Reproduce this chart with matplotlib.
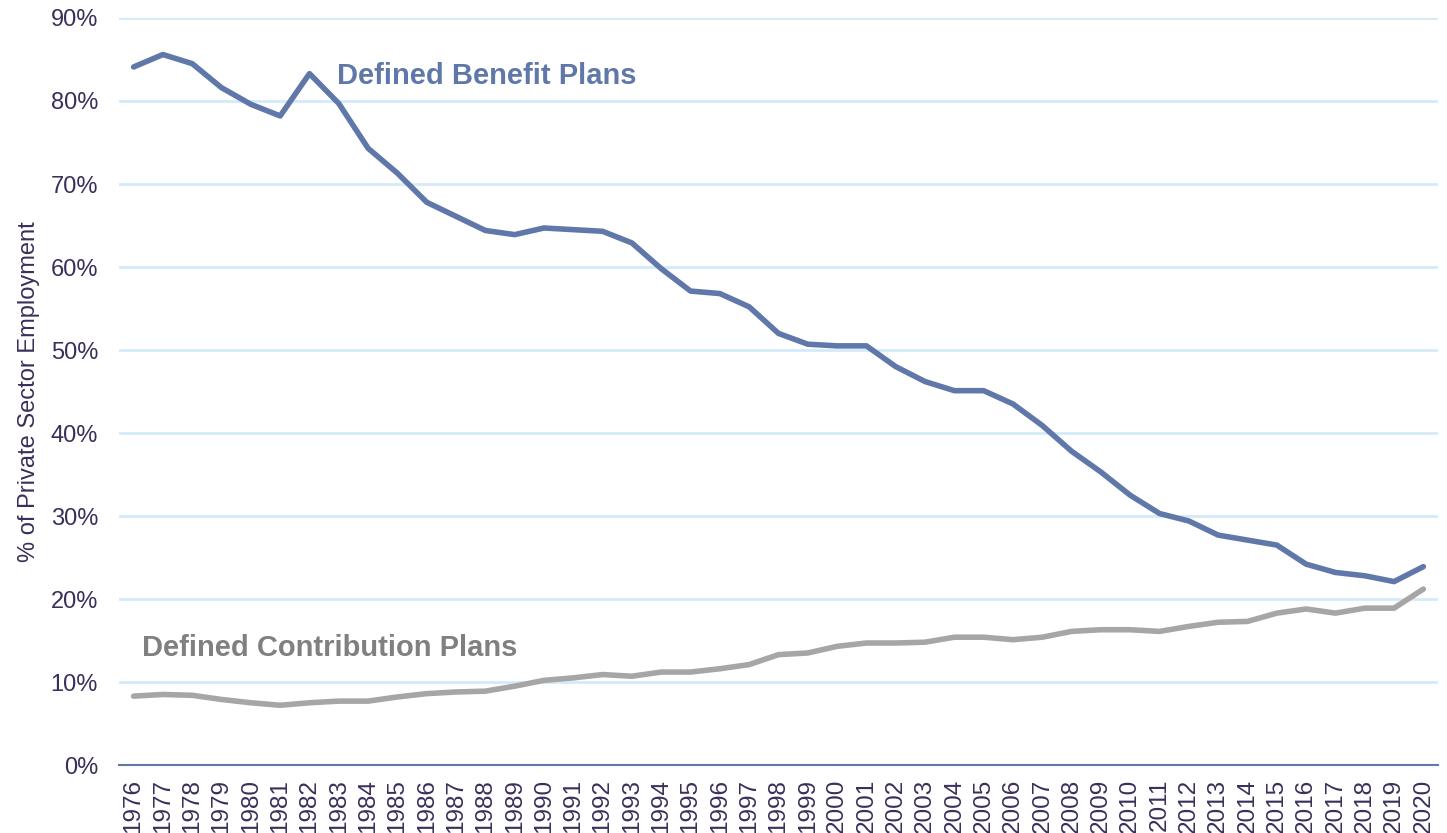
import matplotlib
matplotlib.use("Agg")
import matplotlib.pyplot as plt
from matplotlib.ticker import FuncFormatter

plt.rcParams['font.family'] = ['Liberation Sans', 'DejaVu Sans']

# data (% of private sector employment)
years = list(range(1976, 2021))
db_plans = [84.1, 85.6, 84.5, 81.6, 79.6, 78.2, 83.3, 79.7, 74.3, 71.3,
            67.8, 66.1, 64.4, 63.9, 64.7, 64.5, 64.3, 62.9, 59.8, 57.1,
            56.8, 55.2, 52.0, 50.7, 50.5, 50.5, 48.0, 46.2, 45.1, 45.1,
            43.5, 40.9, 37.8, 35.3, 32.5, 30.3, 29.4, 27.7, 27.1, 26.5,
            24.2, 23.2, 22.8, 22.1, 23.9]
dc_plans = [8.3, 8.5, 8.4, 7.9, 7.5, 7.2, 7.5, 7.7, 7.7, 8.2,
            8.6, 8.8, 8.9, 9.5, 10.2, 10.5, 10.9, 10.7, 11.2, 11.2,
            11.6, 12.1, 13.3, 13.5, 14.3, 14.7, 14.7, 14.8, 15.4, 15.4,
            15.1, 15.4, 16.1, 16.3, 16.3, 16.1, 16.7, 17.2, 17.3, 18.3,
            18.8, 18.3, 18.9, 18.9, 21.2]
y_ticks = [0, 10, 20, 30, 40, 50, 60, 70, 80, 90]

blue = '#6078A9'
grey = '#A6A6A6'
txt = '#3B2E5A'

fig = plt.figure(figsize=(14.47, 8.33), dpi=100)
ax = fig.add_axes([0.0822, 0.0816, 0.9116, 0.8968])

ax.plot(years, db_plans, color=blue, lw=4, solid_capstyle='round', solid_joinstyle='round', zorder=3)
ax.plot(years, dc_plans, color=grey, lw=4, solid_capstyle='round', solid_joinstyle='round', zorder=3)

# series labels
ax.text(1982.95, 83.0, 'Defined Benefit Plans', color=blue, fontsize=21,
        fontweight='bold', va='center', ha='left')
ax.text(1976.3, 14.1, 'Defined Contribution Plans', color='#808080', fontsize=21,
        fontweight='bold', va='center', ha='left')

ax.set_xlim(years[0] - 0.5, years[-1] + 0.5)
ax.set_ylim(0, 90)
ax.set_yticks(y_ticks)
ax.yaxis.set_major_formatter(FuncFormatter(lambda v, p: '%d%%' % v))
ax.set_xticks(years)
ax.set_xticklabels([str(y) for y in years], rotation=90)

ax.grid(axis='y', color='#D4EAFA', lw=2)
ax.set_axisbelow(True)
for s in ['top', 'right', 'left']:
    ax.spines[s].set_visible(False)
ax.spines['bottom'].set_color(blue)
ax.spines['bottom'].set_linewidth(1.5)

ax.tick_params(axis='y', length=0, pad=15, labelsize=17, labelcolor=txt)
ax.tick_params(axis='x', length=0, pad=10, labelsize=17.5, labelcolor=txt)
ax.set_ylabel('% of Private Sector Employment', fontsize=17, color=txt)
ax.yaxis.set_label_coords(-0.060, 0.5)

fig.savefig('out.png', dpi=100)
